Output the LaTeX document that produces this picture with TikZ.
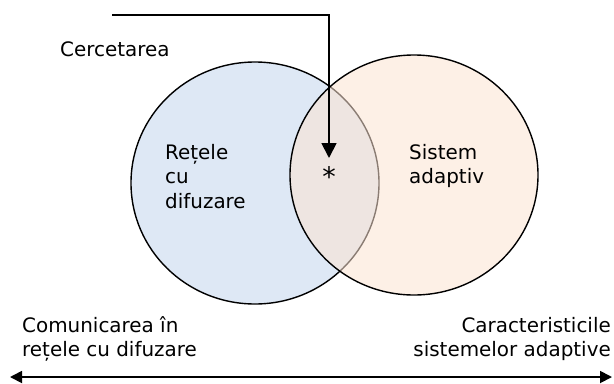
\documentclass[tikz,border=0pt]{standalone}
\usepackage{fontspec}
\setmainfont{DejaVu Sans}
\usetikzlibrary{arrows.meta}
\definecolor{setblue}{HTML}{DEE8F5}
\definecolor{setpeach}{HTML}{FCE3D2}
\tikzset{
  setshape/.style={draw=black, line width=1.4bp},
  lbl/.style={inner sep=0pt, font=\fontsize{20}{24.5}\selectfont},
  flow/.style={line width=1.8bp}
}
\begin{document}
\begin{tikzpicture}[x=1bp, y=-1bp]
\useasboundingbox (0,0) rectangle (614,383);
% the two overlapping sets
\draw[setshape, fill=setblue] (255,183) ellipse [x radius=124, y radius=121];
\draw[setshape, fill=setpeach, fill opacity=0.55] (414,175) ellipse [x radius=124, y radius=120];
% set labels (base anchor sits on the last line)
\node[lbl, anchor=base west, align=left] (retele) at (165,208) {Rețele\\cu\\difuzare};
\node[lbl, anchor=base west, align=left] (sistem) at (409,183.5) {Sistem\\adaptiv};
\node[inner sep=0pt, font=\fontsize{27}{27}\selectfont] (star) at (329,177) {*};
% research input entering the intersection
\coordinate (src) at (112,15);
\node[lbl, anchor=base west] (cerc) at (60,56) {Cercetarea};
\draw[flow, -{Triangle[length=15bp, width=15bp]}] (src) -| (329,158);
% bottom axis and its ends
\node[lbl, anchor=base west, align=left] (comm) at (22,356.5) {Comunicarea în\\rețele cu difuzare};
\node[lbl, anchor=base east, align=right] (carac) at (611,356.5) {Caracteristicile\\sistemelor adaptive};
\coordinate (axl) at (10,377);
\coordinate (axr) at (612,377);
\draw[flow, {Triangle[length=12bp, width=12bp]}-{Triangle[length=12bp, width=12bp]}] (axl) -- (axr);
\end{tikzpicture}
\end{document}
